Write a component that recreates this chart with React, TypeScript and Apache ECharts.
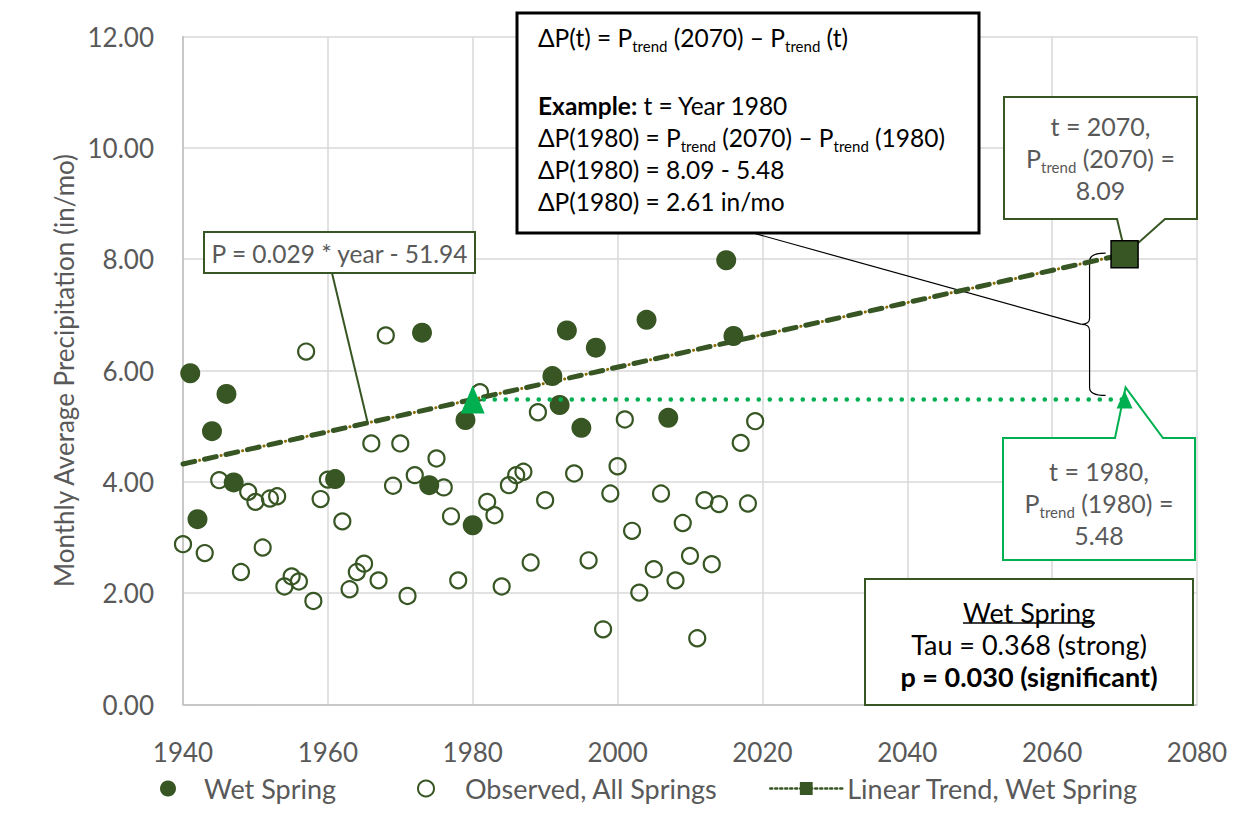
import React, { useEffect, useRef } from "react";
import * as echarts from "echarts";

const FONT = 'Lato, "Noto Sans", "DejaVu Sans", sans-serif';
const DARK = "#375623";
const GREEN = "#00b050";
const GRAY_TXT = "#595959";

// Observed, all springs (year, in/mo)
const observedYears = [
  1940, 1941, 1942, 1943, 1944, 1945, 1946, 1947, 1948, 1949,
  1950, 1951, 1952, 1953, 1954, 1955, 1956, 1957, 1958, 1959,
  1960, 1961, 1962, 1963, 1964, 1965, 1966, 1967, 1968, 1969,
  1970, 1971, 1972, 1973, 1974, 1975, 1976, 1977, 1978, 1979,
  1980, 1981, 1982, 1983, 1984, 1985, 1986, 1987, 1988, 1989,
  1990, 1991, 1992, 1993, 1994, 1995, 1996, 1997, 1998, 1999,
  2000, 2001, 2002, 2003, 2004, 2005, 2006, 2007, 2008, 2009,
  2010, 2011, 2012, 2013, 2014, 2015, 2016, 2017, 2018, 2019,
];
const observedValues = [
  2.88, 5.95, 3.33, 2.72, 4.91, 4.03, 5.58, 3.99, 2.38, 3.82,
  3.64, 2.82, 3.70, 3.74, 2.12, 2.30, 2.21, 6.34, 1.86, 3.69,
  4.04, 4.05, 3.29, 2.07, 2.38, 2.53, 4.69, 2.23, 6.63, 3.93,
  4.69, 1.95, 4.12, 6.68, 3.94, 4.42, 3.90, 3.38, 2.23, 5.11,
  3.22, 5.61, 3.64, 3.40, 2.12, 3.94, 4.12, 4.18, 2.55, 5.25,
  3.67, 5.90, 5.38, 6.72, 4.15, 4.97, 2.59, 6.41, 1.35, 3.79,
  4.28, 5.12, 3.12, 2.01, 6.91, 2.43, 3.79, 5.15, 2.23, 3.26,
  2.67, 1.19, 3.67, 2.52, 3.60, 7.98, 6.62, 4.70, 3.61, 5.09,
];

// Wet springs
const wetYears = [1941, 1942, 1944, 1946, 1947, 1961, 1973, 1974, 1979, 1980, 1991, 1992, 1993, 1995, 1997, 2004, 2007, 2015, 2016];
const wetValues = [5.95, 3.33, 4.91, 5.58, 3.99, 4.05, 6.68, 3.94, 5.11, 3.22, 5.90, 5.38, 6.72, 4.97, 6.41, 6.91, 5.15, 7.98, 6.62];

// Linear trend (P = 0.029 * year - 51.94)
const trendYears = [1940, 2070];
const trendValues = [4.32, 8.09];
const leaderYear = 1965.5;
const leaderValue = 5.06;

// Reference level at t = 1980
const refYears = [1980, 2070];
const refValues = [5.48, 5.48];

const xTicks = { min: 1940, max: 2080, interval: 20 };
const yTicks = { min: 0, max: 12, interval: 2 };

const SERIES_NAMES = ["Wet Spring", "Observed, All Springs", "Linear Trend, Wet Spring"];

function richStyles(color: string, size: number) {
  return {
    n: { fontSize: size, fontFamily: FONT, fill: color, color, lineHeight: 32 },
    b: { fontSize: size, fontFamily: FONT, fill: color, color, lineHeight: 32, fontWeight: "bold" },
    s: { fontSize: 15, fontFamily: FONT, fill: color, color, lineHeight: 19, verticalAlign: "bottom" },
  };
}

function legendFor(name: string, left: number, iconW: number, spacer: number, extra: any = {}) {
  return {
    left,
    top: 770,
    itemWidth: iconW,
    itemHeight: 16,
    itemGap: 0,
    selectedMode: false,
    formatter: spacer > 0 ? "{sp|}{t|{name}}" : "{t|{name}}",
    textStyle: {
      fontSize: 27,
      fontFamily: FONT,
      color: GRAY_TXT,
      rich: {
        sp: { width: spacer, height: 10 },
        t: { fontSize: 27, fontFamily: FONT, color: GRAY_TXT },
      },
    },
    data: [{ name, ...extra }],
  };
}

export default function App() {
  const ref = useRef<HTMLDivElement>(null);

  useEffect(() => {
    if (!ref.current) return;
    const chart = echarts.init(ref.current, null, { renderer: "svg" });

    const option: any = {
      animation: false,
      backgroundColor: "#ffffff",
      grid: { left: 183, right: 55, top: 36.5, bottom: 123.5, containLabel: false },
      xAxis: {
        type: "value",
        min: xTicks.min,
        max: xTicks.max,
        interval: xTicks.interval,
        axisLine: { show: true, lineStyle: { color: "#bfbfbf", width: 1.5 } },
        axisTick: { show: false },
        splitLine: { show: true, lineStyle: { color: "#d9d9d9", width: 1.5 } },
        axisLabel: { formatter: (v: number) => String(v), fontSize: 26, fontFamily: FONT, color: GRAY_TXT, margin: 34 },
      },
      yAxis: {
        type: "value",
        min: yTicks.min,
        max: yTicks.max,
        interval: yTicks.interval,
        axisLine: { show: true, lineStyle: { color: "#bfbfbf", width: 1.5 } },
        axisTick: { show: false },
        splitLine: { show: true, lineStyle: { color: "#d9d9d9", width: 1.5 } },
        axisLabel: { formatter: (v: number) => v.toFixed(2), fontSize: 26, fontFamily: FONT, color: GRAY_TXT, margin: 29 },
        name: "Monthly Average Precipitation (in/mo)",
        nameLocation: "middle",
        nameGap: 106,
        nameTextStyle: { fontSize: 26, fontFamily: FONT, color: GRAY_TXT },
      },
      legend: [
        legendFor(SERIES_NAMES[0], 155, 16, 23),
        legendFor(SERIES_NAMES[1], 412, 16, 26),
        legendFor(SERIES_NAMES[2], 764, 72, 0, {
          lineStyle: { type: [2, 3], width: 2.5, color: DARK },
          itemStyle: { color: DARK, borderWidth: 0 },
        }),
      ],
      series: [
        {
          name: SERIES_NAMES[1],
          type: "scatter",
          z: 2,
          symbol: "circle",
          symbolSize: 16,
          itemStyle: { color: "rgba(255,255,255,0)", borderColor: DARK, borderWidth: 2.2, opacity: 1 },
          data: observedYears.map((y, i) => [y, observedValues[i]]),
        },
        {
          name: SERIES_NAMES[0],
          type: "scatter",
          z: 3,
          symbol: "circle",
          symbolSize: 20,
          itemStyle: { color: DARK, opacity: 1 },
          data: wetYears.map((y, i) => [y, wetValues[i]]),
        },
        {
          name: "trend-dots",
          type: "line",
          z: 3,
          silent: true,
          symbol: "none",
          lineStyle: { color: "#8a6d00", width: 3, type: [0.1, 21.9], cap: "round", dashOffset: 5 },
          data: trendYears.map((y, i) => [y, trendValues[i]]),
        },
        {
          name: SERIES_NAMES[2],
          type: "line",
          z: 4,
          symbol: "rect",
          symbolSize: 27,
          itemStyle: { color: DARK, borderColor: "#000000", borderWidth: 1.5 },
          lineStyle: { color: DARK, width: 5, type: [12, 10], cap: "round" },
          data: trendYears.map((y, i) =>
            i === 0 ? { value: [y, trendValues[i]], symbol: "none" } : { value: [y, trendValues[i]] }
          ),
        },
        {
          name: "ref-1980",
          type: "line",
          z: 4,
          symbol: "triangle",
          itemStyle: { color: GREEN },
          lineStyle: { color: GREEN, width: 4.5, type: [0.1, 10.9], cap: "round" },
          data: refYears.map((y, i) => ({
            value: [y, refValues[i]],
            symbolSize: i === 0 ? [24, 28] : [16, 18],
          })),
        },
      ],
    };

    chart.setOption(option);

    const px = (x: number, y: number) => chart.convertToPixel({ gridIndex: 0 }, [x, y]) as number[];
    const p2070 = px(trendYears[1], trendValues[1]);
    const pRef = px(refYears[1], refValues[1]);
    const pLeader = px(leaderYear, leaderValue);

    // brace geometry
    const bx = p2070[0] - 35;
    const bTop = p2070[1] - 1;
    const bBot = pRef[1] - 4;
    const bMid = (bTop + bBot) / 2;
    const braceD =
      `M ${bx + 16} ${bTop} Q ${bx} ${bTop} ${bx} ${bTop + 8} L ${bx} ${bMid - 6} Q ${bx} ${bMid} ${bx - 8} ${bMid}` +
      ` Q ${bx} ${bMid} ${bx} ${bMid + 6} L ${bx} ${bBot - 8} Q ${bx} ${bBot} ${bx + 16} ${bBot}`;
    echarts.graphic.registerShape("brace", echarts.graphic.extendPath(braceD, {}) as any);

    const box1 = { x0: 1004, y0: 97, x1: 1197, y1: 219 };
    const box2 = { x0: 1003, y0: 438, x1: 1195, y1: 560 };

    const graphics: any[] = [
      // equation label
      {
        type: "line",
        z: 1,
        shape: { x1: 332, y1: 273, x2: pLeader[0], y2: pLeader[1] },
        style: { stroke: DARK, lineWidth: 2 },
      },
      {
        type: "rect",
        z: 1,
        shape: { x: 204, y: 232, width: 271, height: 41 },
        style: { fill: "#ffffff", stroke: DARK, lineWidth: 2 },
      },
      {
        type: "text",
        z: 1,
        style: {
          text: "P = 0.029 * year - 51.94",
          x: 339.5,
          y: 253.5,
          align: "center",
          verticalAlign: "middle",
          fill: GRAY_TXT,
          font: `24.5px ${FONT}`,
        },
      },
      // big formula box
      {
        type: "line",
        z: 1,
        shape: { x1: 753, y1: 233, x2: bx - 8, y2: bMid },
        style: { stroke: "#000000", lineWidth: 1.2 },
      },
      {
        type: "rect",
        z: 1,
        shape: { x: 517, y: 13, width: 462, height: 220 },
        style: { fill: "#ffffff", stroke: "#000000", lineWidth: 3 },
      },
      {
        type: "text",
        z: 1,
        style: {
          text: "{n|ΔP(t) = P}{s|trend}{n| (2070) – P}{s|trend}{n| (t)}",
          x: 538,
          y: 21,
          align: "left",
          verticalAlign: "top",
          fill: "#000000",
          font: `24.5px ${FONT}`,
          rich: richStyles("#000000", 24.5),
        },
      },
      {
        type: "text",
        z: 1,
        style: {
          text: [
            "{b|Example:}{n| t = Year 1980}",
            "{n|ΔP(1980) = P}{s|trend}{n| (2070) – P}{s|trend}{n| (1980)}",
            "{n|ΔP(1980) = 8.09 - 5.48}",
            "{n|ΔP(1980) = 2.61 in/mo}",
          ].join("\n"),
          x: 538,
          y: 89,
          align: "left",
          verticalAlign: "top",
          fill: "#000000",
          font: `24.5px ${FONT}`,
          rich: richStyles("#000000", 24.5),
        },
      },
      // brace
      {
        type: "brace",
        z: 1,
        x: 0,
        y: 0,
        style: { fill: "none", stroke: "#000000", lineWidth: 1.2 },
      },
      // callout 2070
      {
        type: "polygon",
        z: 1,
        shape: {
          points: [
            [box1.x0, box1.y0],
            [box1.x1, box1.y0],
            [box1.x1, box1.y1],
            [1165, box1.y1],
            [p2070[0] + 1, p2070[1]],
            [1117, box1.y1],
            [box1.x0, box1.y1],
          ],
        },
        style: { fill: "#ffffff", stroke: DARK, lineWidth: 2 },
      },
      {
        type: "text",
        z: 1,
        style: {
          text: "{n|t = 2070,}\n{n|P}{s|trend}{n| (2070) =}\n{n|8.09}",
          x: (box1.x0 + box1.x1) / 2,
          y: 110,
          align: "center",
          verticalAlign: "top",
          fill: GRAY_TXT,
          font: `25px ${FONT}`,
          rich: richStyles(GRAY_TXT, 25),
        },
      },
      // callout 1980
      {
        type: "polygon",
        z: 1,
        shape: {
          points: [
            [box2.x0, box2.y0],
            [1115, box2.y0],
            [pRef[0] + 1, pRef[1] - 12],
            [1163, box2.y0],
            [box2.x1, box2.y0],
            [box2.x1, box2.y1],
            [box2.x0, box2.y1],
          ],
        },
        style: { fill: "#ffffff", stroke: GREEN, lineWidth: 2 },
      },
      {
        type: "text",
        z: 1,
        style: {
          text: "{n|t = 1980,}\n{n|P}{s|trend}{n| (1980) =}\n{n|5.48}",
          x: (box2.x0 + box2.x1) / 2,
          y: 455,
          align: "center",
          verticalAlign: "top",
          fill: GRAY_TXT,
          font: `25px ${FONT}`,
          rich: richStyles(GRAY_TXT, 25),
        },
      },
      // stats box
      {
        type: "rect",
        z: 1,
        shape: { x: 865, y: 579, width: 328, height: 126 },
        style: { fill: "#ffffff", stroke: DARK, lineWidth: 2 },
      },
      {
        type: "text",
        z: 1,
        style: {
          text: "{n|Wet Spring}\n{n|Tau = 0.368 (strong)}\n{b|p = 0.030 (significant)}",
          x: 1029,
          y: 596,
          align: "center",
          verticalAlign: "top",
          fill: "#000000",
          font: `27px ${FONT}`,
          rich: richStyles("#000000", 27),
        },
      },
      {
        type: "line",
        z: 1,
        shape: { x1: 963, y1: 623, x2: 1095, y2: 623 },
        style: { stroke: "#000000", lineWidth: 1.5 },
      },
    ];

    chart.setOption({ graphic: graphics });

    return () => chart.dispose();
  }, []);

  return (
    <div
      ref={ref}
      style={{ position: "absolute", left: 0, top: 0, width: 1252, height: 828, background: "#ffffff" }}
    />
  );
}
